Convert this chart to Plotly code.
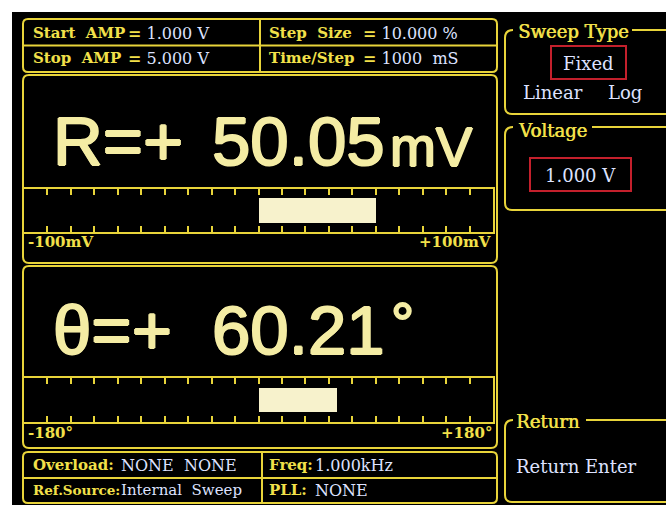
import plotly.graph_objects as go

W, H = 666, 505

# ---- data -------------------------------------------------------------
r_value = 50.05          # mV
r_range = [-100, 100]    # mV
r_dtick = 10
theta_value = 60.21      # degrees
theta_range = [-180, 180]
theta_dtick = 18

top_labels = ["Start  AMP", "Stop  AMP", "Step  Size", "Time/Step"]
top_values = ["1.000 V", "5.000 V", "10.000 %", "1000  mS"]
bottom_labels = ["Overload:", "Ref.Source:", "Freq:", "PLL:"]
bottom_values = ["NONE  NONE", "Internal  Sweep", "1.000kHz", "NONE"]
r_scale_labels = ["-100mV", "+100mV"]
theta_scale_labels = ["-180°", "+180°"]
sweep_title = "Sweep Type"
sweep_options = ["Fixed", "Linear", "Log"]
voltage_title = "Voltage"
voltage_value = "1.000 V"
return_title = "Return"
return_option = "Return Enter"

# ---- styles -----------------------------------------------------------
YEL = "#e8d43a"
LBL = "#f2e04a"
VAL = "#dde2ff"
BIG = "#f4eca4"
FILL = "#f7f2cc"
RED = "#c4202c"
SERIF = "DejaVu Serif"
SANS = "Liberation Sans"
BIG_SHADOW = f"1px 0px 0px {BIG}, -1px 0px 0px {BIG}, 0px 1px 0px {BIG}, 0px -1px 0px {BIG}"
TITLE_SHADOW = f"0.6px 0px 0px {LBL}"

fig = go.Figure()

# meter bars drawn through their own axes
fig.add_trace(go.Bar(x=[r_value], y=[0], orientation="h", width=0.56,
                     marker=dict(color=FILL, line=dict(width=0)),
                     xaxis="x2", yaxis="y2", hoverinfo="skip"))
fig.add_trace(go.Bar(x=[theta_value], y=[0], orientation="h", width=0.56,
                     marker=dict(color=FILL, line=dict(width=0)),
                     xaxis="x3", yaxis="y3", hoverinfo="skip"))


def rrect(x0, y0, x1, y1, r=5):
    return (f"M {x0+r},{y0} L {x1-r},{y0} Q {x1},{y0} {x1},{y0+r} "
            f"L {x1},{y1-r} Q {x1},{y1} {x1-r},{y1} L {x0+r},{y1} "
            f"Q {x0},{y1} {x0},{y1-r} L {x0},{y0+r} Q {x0},{y0} {x0+r},{y0} Z")


shapes = []


def add_path(p, color=YEL, w=2):
    shapes.append(dict(type="path", path=p, xref="x", yref="y",
                       line=dict(color=color, width=w)))


def add_line(x0, y0, x1, y1, color=YEL, w=2):
    shapes.append(dict(type="line", x0=x0, y0=y0, x1=x1, y1=y1, xref="x", yref="y",
                       line=dict(color=color, width=w)))


# left column frames
add_path(rrect(23, 19, 497, 72))
add_line(23, 45.5, 497, 45.5)
add_line(260, 19, 260, 72)
add_path(rrect(23, 75, 497, 263, 6))
add_path(rrect(23, 266, 497, 448, 6))
add_path(rrect(23, 452, 497, 503))
add_line(23, 478, 497, 478)
add_line(262, 452, 262, 503)


# right column group boxes (open on the right)
def group(top, bottom, title_end, left=505):
    add_path(f"M 513,{top} Q {left},{top} {left},{top+8} L {left},{bottom-7} "
             f"Q {left},{bottom} {left+7},{bottom} L 666,{bottom}")
    add_line(title_end, top, 666, top)


group(30, 114, 632)
group(127, 210, 592)
group(420, 502, 586)
# red selection boxes
shapes.append(dict(type="rect", x0=551, y0=46, x1=626, y1=79, xref="x", yref="y",
                   line=dict(color=RED, width=2)))
shapes.append(dict(type="rect", x0=530, y0=158, x1=631, y1=191, xref="x", yref="y",
                   line=dict(color=RED, width=2)))

ann = []


def txt(x, y, s, size=15, color=LBL, family=SERIF, anchor="left", bold=False, shadow=None):
    if bold:
        s = f"<b>{s}</b>"
    font = dict(size=size, color=color, family=family)
    if shadow:
        font["shadow"] = shadow
    ann.append(dict(x=x, y=y, text=s, xref="x", yref="y", showarrow=False,
                    xanchor=anchor, yanchor="middle", font=font))


eq = f"<span style='color:{LBL}'><b>=</b></span>"
# top info
txt(31, 33, top_labels[0], bold=True)
txt(31, 58, top_labels[1], bold=True)
txt(267, 33, top_labels[2], bold=True)
txt(267, 58, top_labels[3], bold=True)
txt(126, 33, f"{eq} {top_values[0]}", size=16, color=VAL)
txt(126, 58, f"{eq} {top_values[1]}", size=16, color=VAL)
txt(361, 33, f"{eq} {top_values[2]}", size=16, color=VAL)
txt(361, 58, f"{eq} {top_values[3]}", size=16, color=VAL)

# bottom info
txt(31, 465, bottom_labels[0], bold=True)
txt(119, 465, bottom_values[0], size=16, color=VAL)
txt(31, 490, bottom_labels[1], size=13.5, bold=True)
txt(119, 490, bottom_values[1], color=VAL)
txt(267, 465, bottom_labels[2], bold=True)
txt(313, 465, bottom_values[2], size=16, color=VAL)
txt(267, 490, bottom_labels[3], bold=True)
txt(313, 490, bottom_values[3], size=16, color=VAL)

# big readouts
txt(51, 141, "R=+", size=69, color=BIG, family=SANS, shadow=BIG_SHADOW)
txt(210, 141, f"{r_value:.2f}", size=69, color=BIG, family=SANS, shadow=BIG_SHADOW)
txt(388, 147, "mV", size=55, color=BIG, family=SANS, shadow=BIG_SHADOW)
txt(51, 330, "θ=+", size=69, color=BIG, family=SANS, shadow=BIG_SHADOW)
txt(210, 330, f"{theta_value:.2f}", size=69, color=BIG, family=SANS, shadow=BIG_SHADOW)
txt(389, 322, "°", size=58, color=BIG, family=SANS, shadow=BIG_SHADOW)

# scale end labels
txt(26, 242, r_scale_labels[0], bold=True)
txt(493, 242, r_scale_labels[1], bold=True, anchor="right")
txt(26, 433, theta_scale_labels[0], bold=True)
txt(494, 433, theta_scale_labels[1], bold=True, anchor="right")

# right menu
txt(516, 31, sweep_title, size=18, shadow=TITLE_SHADOW)
txt(588.5, 63, sweep_options[0], size=18, color=VAL, anchor="center")
txt(521, 92, sweep_options[1], size=18, color=VAL)
txt(606, 92, sweep_options[2], size=18, color=VAL)
txt(516, 130, voltage_title, size=18, shadow=TITLE_SHADOW)
txt(580.5, 175, voltage_value, size=18, color=VAL, anchor="center")
txt(514, 421, return_title, size=18, shadow=TITLE_SHADOW)
txt(514, 466, return_option, size=18, color=VAL)

meter_axis = dict(ticks="inside", ticklen=6, tickwidth=1.5, tickcolor=YEL,
                  showticklabels=False, showline=True, linecolor=YEL, linewidth=2,
                  mirror="ticks", showgrid=False, zeroline=False, fixedrange=True)
meter_y = dict(range=[-0.5, 0.5], showline=True, linecolor=YEL, linewidth=2,
               mirror=True, ticks="", showticklabels=False, showgrid=False,
               zeroline=False, fixedrange=True)

fig.update_layout(
    width=W, height=H, margin=dict(l=0, r=0, t=0, b=0),
    paper_bgcolor="white", plot_bgcolor="black", showlegend=False,
    xaxis=dict(range=[12, 666], domain=[12 / W, 1], visible=False, fixedrange=True),
    yaxis=dict(range=[505, 12], domain=[0, (H - 12) / H], visible=False, fixedrange=True),
    xaxis2=dict(meter_axis, range=r_range, dtick=r_dtick, tick0=r_range[0],
                domain=[24 / W, 493 / W], anchor="y2"),
    yaxis2=dict(meter_y, domain=[(H - 232) / H, (H - 189) / H], anchor="x2"),
    xaxis3=dict(meter_axis, range=theta_range, dtick=theta_dtick, tick0=theta_range[0],
                domain=[24 / W, 493 / W], anchor="y3"),
    yaxis3=dict(meter_y, domain=[(H - 422) / H, (H - 378) / H], anchor="x3"),
    shapes=shapes, annotations=ann, bargap=0,
)

fig.write_html("out.html", config={"displayModeBar": False},
               post_script="document.body.style.margin='0';document.body.style.overflow='hidden';")
